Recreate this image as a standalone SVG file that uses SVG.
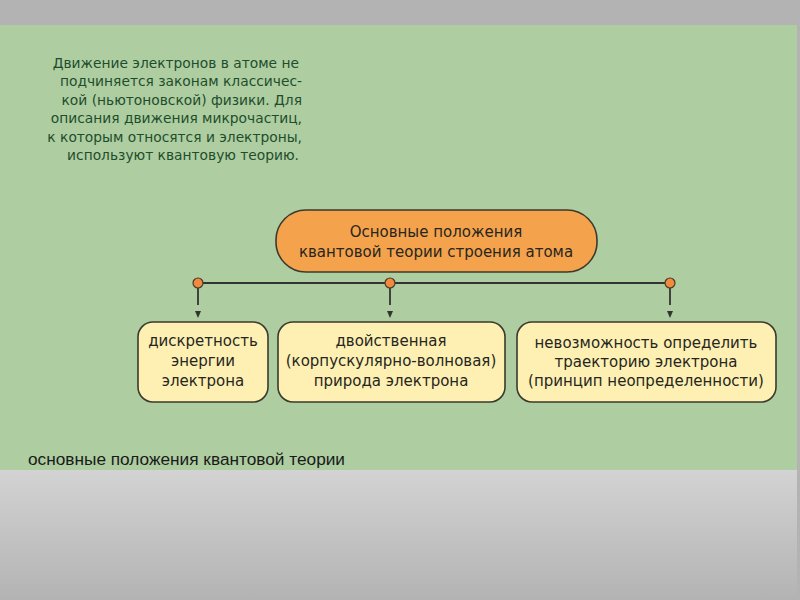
<svg xmlns="http://www.w3.org/2000/svg" width="800" height="600" viewBox="0 0 800 600">
<defs>
<linearGradient id="bot" x1="0" y1="0" x2="0" y2="1">
<stop offset="0" stop-color="#d3d3d3"/>
<stop offset="1" stop-color="#b4b4b4"/>
</linearGradient>
<style>
.t{font-family:"DejaVu Sans","Liberation Sans",Arial,sans-serif;text-anchor:middle;fill:#26261e}
.p{font-family:"DejaVu Sans","Liberation Sans",Arial,sans-serif;text-anchor:end;fill:#1e4d2c;font-size:13.8px}
.box{fill:#fdf0b2;stroke:#3a3a2e;stroke-width:1.6}
.pill{fill:#f5a24c;stroke:#3a3a2e;stroke-width:1.6}
.dot{fill:#f08a3c;stroke:#4a3a2a;stroke-width:1.2}
.ln{stroke:#333;stroke-width:1.8;fill:none}
.ah{fill:#333}
</style>
</defs>
<rect x="0" y="0" width="800" height="600" fill="#b3b3b3"/>
<rect x="0" y="25" width="797" height="445" fill="#aecda1"/>
<rect x="0" y="470" width="797" height="126" fill="url(#bot)"/>
<g id="intro">
<text class="p" x="299" y="68">Движение электронов в атоме не</text>
<text class="p" x="302" y="86">подчиняется законам классичес-</text>
<text class="p" x="302" y="105">кой (ньютоновской) физики. Для</text>
<text class="p" x="302" y="123">описания движения микрочастиц,</text>
<text class="p" x="302" y="142">к которым относятся и электроны,</text>
<text class="p" x="299" y="160">используют квантовую теорию.</text>
</g>
<g id="root">
<rect class="pill" x="276" y="210" width="321" height="62" rx="30"/>
<text class="t" x="436" y="237" font-size="15">Основные положения</text>
<text class="t" x="436" y="257" font-size="15">квантовой теории строения атома</text>
</g>
<g id="connectors">
<line class="ln" x1="198" y1="283" x2="670" y2="283"/>
<line class="ln" x1="198" y1="283" x2="198" y2="305"/>
<line class="ln" x1="390" y1="283" x2="390" y2="305"/>
<line class="ln" x1="670" y1="283" x2="670" y2="305"/>
<polygon class="ah" points="195,311 201,311 198,318"/>
<polygon class="ah" points="387,311 393,311 390,318"/>
<polygon class="ah" points="667,311 673,311 670,318"/>
<circle class="dot" cx="198" cy="283" r="5"/>
<circle class="dot" cx="390" cy="283" r="5"/>
<circle class="dot" cx="670" cy="283" r="5"/>
</g>
<g id="box1">
<rect class="box" x="138" y="322" width="130" height="80" rx="15"/>
<text class="t" x="203" y="346" font-size="15">дискретность</text>
<text class="t" x="203" y="366" font-size="15">энергии</text>
<text class="t" x="203" y="386" font-size="15">электрона</text>
</g>
<g id="box2">
<rect class="box" x="278" y="322" width="227" height="80" rx="15"/>
<text class="t" x="391" y="346" font-size="15">двойственная</text>
<text class="t" x="391" y="366" font-size="15">(корпускулярно-волновая)</text>
<text class="t" x="391" y="386" font-size="15">природа электрона</text>
</g>
<g id="box3">
<rect class="box" x="517" y="322" width="259" height="80" rx="15"/>
<text class="t" x="646" y="348" font-size="15">невозможность определить</text>
<text class="t" x="646" y="367" font-size="15">траекторию электрона</text>
<text class="t" x="646" y="386" font-size="15">(принцип неопределенности)</text>
</g>
<text x="28" y="465" font-family="'Liberation Sans Narrow','Liberation Sans',Arial,sans-serif" font-size="16" fill="#1a1a1a" textLength="317" lengthAdjust="spacingAndGlyphs">основные положения квантовой теории</text>
</svg>
